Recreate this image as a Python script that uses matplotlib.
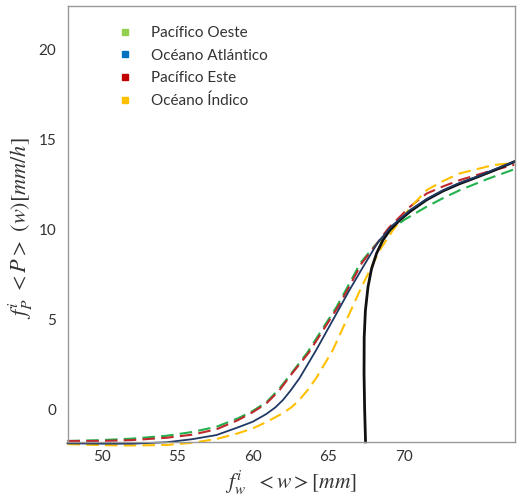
import matplotlib
matplotlib.use("Agg")
import matplotlib.pyplot as plt
from matplotlib.lines import Line2D

plt.rcParams['font.family'] = ['Lato', 'DejaVu Sans']
plt.rcParams['mathtext.fontset'] = 'stix'

# Series data
x_navy = [47.75, 50, 52, 54.3, 56, 57.6, 59, 60.0, 60.9, 61.5, 62.0, 62.5, 63.1, 64.2, 65.3, 66.4, 67.3, 68.3, 69.2, 70.4, 71.5, 72.6, 73.7, 74.8, 76, 77.3]
y_navy = [-1.88, -1.9, -1.9, -1.82, -1.65, -1.42, -1.0, -0.68, -0.25, 0.12, 0.53, 1.05, 1.75, 3.31, 4.97, 6.64, 7.93, 9.32, 10.2, 11.08, 11.7, 12.19, 12.6, 12.93, 13.35, 13.77]

x_green = [47.75, 50, 52, 54.3, 56, 57.6, 59, 60.0, 60.9, 61.7, 62.5, 63.6, 64.7, 65.55, 66.4, 67.1, 68, 69, 70, 71.5, 72.6, 73.7, 75.5, 77.3]
y_green = [-1.75, -1.7, -1.62, -1.46, -1.25, -0.96, -0.5, -0.08, 0.4, 1.1, 1.95, 3.15, 4.6, 5.71, 7.01, 8.12, 9.04, 9.9, 10.53, 11.27, 11.75, 12.19, 12.8, 13.35]

x_red = [47.75, 50, 52, 54.3, 56, 57.6, 59, 60.0, 60.9, 61.75, 62.55, 63.7, 64.8, 65.65, 66.5, 67.2, 68.05, 69, 70.4, 71.5, 72.6, 73.7, 75.5, 77.3]
y_red = [-1.75, -1.75, -1.7, -1.57, -1.4, -1.1, -0.6, -0.15, 0.34, 1.05, 1.95, 3.15, 4.6, 5.71, 7.01, 8.12, 9.04, 10.1, 11.27, 12.0, 12.4, 12.75, 13.2, 13.6]

x_yellow = [47.75, 50, 52, 54.3, 56, 57.6, 59, 60.0, 60.9, 62, 62.6, 63.1, 63.65, 64.2, 65.3, 66.2, 67.1, 67.75, 68.4, 69.3, 70.4, 71.5, 72.6, 73.7, 75.9, 77.3]
y_yellow = [-1.92, -1.98, -2.0, -1.97, -1.85, -1.64, -1.33, -1.05, -0.7, -0.2, 0.15, 0.55, 1.1, 1.75, 3.31, 4.97, 6.64, 7.75, 8.86, 10.0, 11.2, 12.19, 12.7, 13.12, 13.58, 13.7]

x_black = [67.46, 67.4, 67.36, 67.37, 67.45, 67.62, 67.85, 68.19, 68.6, 69.07, 69.73, 70.4, 71.5, 72.6, 73.7, 74.8, 76, 77.3]
y_black = [-1.8, 0, 2, 4, 5.5, 6.8, 7.8, 8.68, 9.4, 9.97, 10.53, 11.0, 11.65, 12.15, 12.55, 12.9, 13.3, 13.77]

legend_labels = ["Pacífico Oeste", "Océano Atlántico", "Pacífico Este", "Océano Índico"]
legend_colors = ["#92d050", "#0070c0", "#c00000", "#ffc000"]

x_ticks = [50, 55, 60, 65, 70]
y_ticks = [0, 5, 10, 15, 20]

fig = plt.figure(figsize=(5.18, 4.98), dpi=100)
ax = fig.add_axes([67.5/518, 1-442/498, (514.5-67.5)/518, (442-6)/498])

dash = (0, (6, 3))
ax.plot(x_green, y_green, color="#22b14c", lw=1.5, ls=dash, clip_on=False)
ax.plot(x_red, y_red, color="#c0282d", lw=1.5, ls=dash, clip_on=False)
ax.plot(x_yellow, y_yellow, color="#ffc000", lw=1.5, ls=dash, clip_on=False)
ax.plot(x_black, y_black, color="#111111", lw=2.0, clip_on=False)
ax.plot(x_navy, y_navy, color="#1f3864", lw=1.3, clip_on=False)

ax.set_xlim(47.75, 77.31)
ax.set_ylim(-1.806, 22.42)
ax.set_xticks(x_ticks)
ax.set_yticks(y_ticks)
ax.tick_params(length=0, labelsize=11, colors="#333333")
ax.tick_params(axis='y', pad=8)
ax.tick_params(axis='x', pad=6)
for s in ax.spines.values():
    s.set_color("#999999")
    s.set_linewidth(1.0)

ax.set_xlabel(r"$f_w^i\ \ <w> [mm]$", fontsize=15.5, color="#333333", labelpad=3)
ax.set_ylabel(r"$f_P^i\ <P>\ (w)[mm/h]$", fontsize=16, color="#333333")
ax.yaxis.set_label_coords(-0.073, 0.49)

handles = [Line2D([], [], marker='s', ls='', markersize=4.5, color=c) for c in legend_colors]
leg = ax.legend(handles, legend_labels, loc='upper left', bbox_to_anchor=(0.081, 0.985),
                frameon=False, fontsize=11, handlelength=1.0, handletextpad=1.2,
                labelspacing=0.55, labelcolor="#333333")

fig.savefig("out.png", dpi=100)
